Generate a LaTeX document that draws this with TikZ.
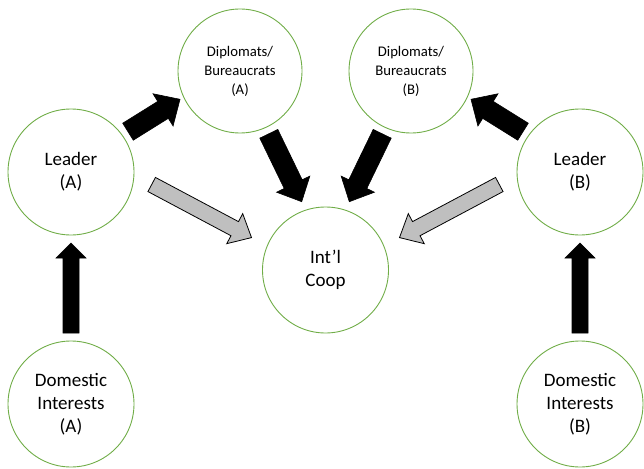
\documentclass[tikz,border=0pt]{standalone}
\usepackage{fontspec}
\setmainfont{Carlito}
\usetikzlibrary{calc}
\definecolor{ringgreen}{RGB}{112,173,71}
\definecolor{arrowgray}{RGB}{191,191,191}
\tikzset{
  ring/.style={circle, draw=ringgreen, line width=0.9pt, fill=white, minimum size=126pt, inner sep=0pt, align=center, font=\fontsize{19}{23}\selectfont},
  smallring/.style={ring, minimum size=124pt, font=\fontsize{14.7}{19}\selectfont},
  blackarrow/.style={fill=black, draw=black, line width=0.6pt, line join=miter},
  grayarrow/.style={fill=arrowgray, draw=black, line width=0.8pt, line join=miter}
}
% #1 style, #2 tail, #3 tip, #4 shaft half width, #5 head half width, #6 head length
\newcommand\blockarrow[6]{%
  \coordinate (#2-b) at ($(#3)!#6!(#2)$);
  \path[#1] ($(#2)!#4!90:(#3)$) -- ($(#2-b)!#4!90:(#3)$) -- ($(#2-b)!#5!90:(#3)$) -- (#3)
    -- ($(#2-b)!#5!-90:(#3)$) -- ($(#2-b)!#4!-90:(#3)$) -- ($(#2)!#4!-90:(#3)$) -- cycle;
}
\begin{document}
\begin{tikzpicture}[x=1pt, y=-1pt]
\useasboundingbox (0,0) rectangle (644,468);
% circles
\node[ring] (la) at (71,172) {Leader\\(A)};
\node[ring] (lb) at (580,172) {Leader\\(B)};
\node[ring] (da) at (71,404) {Domestic\\Interests\\(A)};
\node[ring] (db) at (580,404) {Domestic\\Interests\\(B)};
\node[smallring] (pa) at (240,71) {Diplomats/\\Bureaucrats\\(A)};
\node[smallring] (pb) at (411,71) {Diplomats/\\Bureaucrats\\(B)};
\node[ring] (ic) at (325.5,270) {Int’l\\Coop};
% arrow ends
\coordinate (a1t) at (71,333);   \coordinate (a1h) at (71,243);
\coordinate (a2t) at (128,131.7); \coordinate (a2h) at (180,99.3);
\coordinate (a3t) at (268.8,133.8); \coordinate (a3h) at (301.7,201.7);
\coordinate (a4t) at (151.7,184.5); \coordinate (a4h) at (251.5,237.6);
\coordinate (b1t) at (580,333);  \coordinate (b1h) at (580,243);
\coordinate (b2t) at (523,131.7); \coordinate (b2h) at (471,99.3);
\coordinate (b3t) at (382.2,133.8); \coordinate (b3h) at (349.3,201.7);
\coordinate (b4t) at (499.3,184.5); \coordinate (b4h) at (399.5,237.6);
% arrows
\blockarrow{blackarrow}{a1t}{a1h}{8pt}{15pt}{15pt}
\blockarrow{blackarrow}{a2t}{a2h}{10pt}{19pt}{20pt}
\blockarrow{blackarrow}{a3t}{a3h}{10pt}{18.5pt}{19.5pt}
\blockarrow{grayarrow}{a4t}{a4h}{8pt}{17pt}{19pt}
\blockarrow{blackarrow}{b1t}{b1h}{8pt}{15pt}{15pt}
\blockarrow{blackarrow}{b2t}{b2h}{10pt}{19pt}{20pt}
\blockarrow{blackarrow}{b3t}{b3h}{10pt}{18.5pt}{19.5pt}
\blockarrow{grayarrow}{b4t}{b4h}{8pt}{17pt}{19pt}
\end{tikzpicture}
\end{document}
